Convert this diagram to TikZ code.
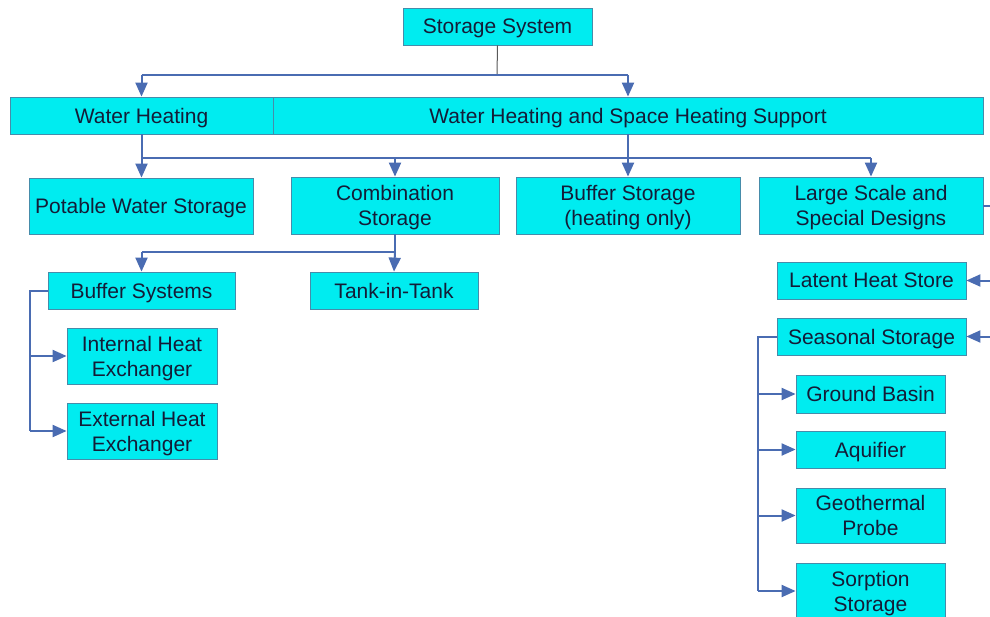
\documentclass[tikz,border=0pt]{standalone}
\usepackage{fontspec}
\setmainfont{Liberation Sans}
\usetikzlibrary{arrows.meta}
\definecolor{boxfill}{RGB}{0,236,240}
\definecolor{boxline}{RGB}{70,140,170}
\definecolor{connc}{RGB}{74,108,178}
\definecolor{txt}{RGB}{20,28,55}
\begin{document}
\begin{tikzpicture}[x=1pt,y=-1pt,
  box/.style={draw=boxline, fill=boxfill, line width=0.8pt, inner sep=0pt, align=center,
    text=txt, text depth=0pt, font=\fontsize{21}{25}\selectfont},
  ln/.style={draw=connc, line width=2pt},
  thinln/.style={draw=black!65, line width=1pt},
  arr/.style={ln, -{Triangle[length=14pt,width=12pt]}}]
\useasboundingbox (0,0) rectangle (990,616);
\clip (0,0) rectangle (990,616);
\fill[white] (0,0) rectangle (990,616);
% level 0
\node[box, minimum width=189pt, minimum height=37pt] (sys) at (497.5,26.5) {Storage System};
% level 1
\node[box, minimum width=263pt, minimum height=37pt] (wh) at (141.5,115.5) {Water Heating};
\node[box, minimum width=710pt, minimum height=37pt] (whs) at (628,115.5) {Water Heating and Space Heating Support};
% level 2
\node[box, minimum width=224pt, minimum height=56pt] (pws) at (141,206) {Potable Water Storage};
\node[box, minimum width=208pt, minimum height=57pt] (cs) at (395,205.5) {Combination\\Storage};
\node[box, minimum width=224pt, minimum height=57pt] (bfs) at (628,205.5) {Buffer Storage\\(heating only)};
\node[box, minimum width=224pt, minimum height=57pt] (ls) at (871,205.5) {Large Scale and\\Special Designs};
% combination storage children
\node[box, minimum width=187pt, minimum height=37pt] (bsys) at (141.5,290.5) {Buffer Systems};
\node[box, minimum width=168pt, minimum height=37pt] (tit) at (394,290.5) {Tank-in-Tank};
\node[box, minimum width=150pt, minimum height=56pt] (ihe) at (142,356) {Internal Heat\\Exchanger};
\node[box, minimum width=150pt, minimum height=56pt] (ehe) at (142,431) {External Heat\\Exchanger};
% large scale children
\node[box, minimum width=189pt, minimum height=37pt] (lhs) at (871.5,280.5) {Latent Heat Store};
\node[box, minimum width=189pt, minimum height=37pt] (ss) at (871.5,336.5) {Seasonal Storage};
\node[box, minimum width=149pt, minimum height=38pt] (gb) at (870.5,394) {Ground Basin};
\node[box, minimum width=149pt, minimum height=37pt] (aq) at (870.5,449.5) {Aquifier};
\node[box, minimum width=149pt, minimum height=55pt] (gp) at (870.5,515.5) {Geothermal\\Probe};
\node[box, minimum width=149pt, minimum height=56pt] (sp) at (870.5,591) {Sorption\\Storage};
% connectors level 0 -> 1
\coordinate (j1) at (497,75);
\draw[thinln] (sys.south) -- (j1);
\draw[ln] (wh.north |- j1) -- (whs.north |- j1);
\draw[arr] (wh.north |- j1) -- (wh.north);
\draw[arr] (whs.north |- j1) -- (whs.north);
% level 1 -> 2
\coordinate (j2) at (0,158);
\draw[ln] (wh.south |- j2) -- (ls.north |- j2);
\draw[arr] (wh.south) -- (wh.south |- pws.north);
\draw[arr] (whs.south) -- (bfs.north);
\draw[arr] (cs.north |- j2) -- (cs.north);
\draw[arr] (ls.north |- j2) -- (ls.north);
% combination storage -> children
\coordinate (j3) at (0,252);
\draw[ln] (cs.south) -- (cs.south |- j3) -- (bsys.north |- j3);
\draw[arr] (bsys.north |- j3) -- (bsys.north);
\draw[arr] (cs.south |- j3) -- (tit.north);
% buffer systems -> heat exchangers
\coordinate (bl) at (30,290.5);
\draw[ln] (bsys.west) -- (bl) -- (bl |- ehe.west);
\draw[arr] (bl |- ihe.west) -- (ihe.west);
\draw[arr] (bl |- ehe.west) -- (ehe.west);
% large scale -> right side
\coordinate (rr) at (1000,205.5);
\draw[ln] (ls.east) -- (rr) -- (rr |- ss.east);
\draw[arr] (rr |- lhs.east) -- (lhs.east);
\draw[arr] (rr |- ss.east) -- (ss.east);
% seasonal storage -> children
\coordinate (sl) at (758,336.5);
\draw[ln] (ss.west) -- (sl) -- (sl |- sp.west);
\draw[arr] (sl |- gb.west) -- (gb.west);
\draw[arr] (sl |- aq.west) -- (aq.west);
\draw[arr] (sl |- gp.west) -- (gp.west);
\draw[arr] (sl |- sp.west) -- (sp.west);
\end{tikzpicture}
\end{document}
